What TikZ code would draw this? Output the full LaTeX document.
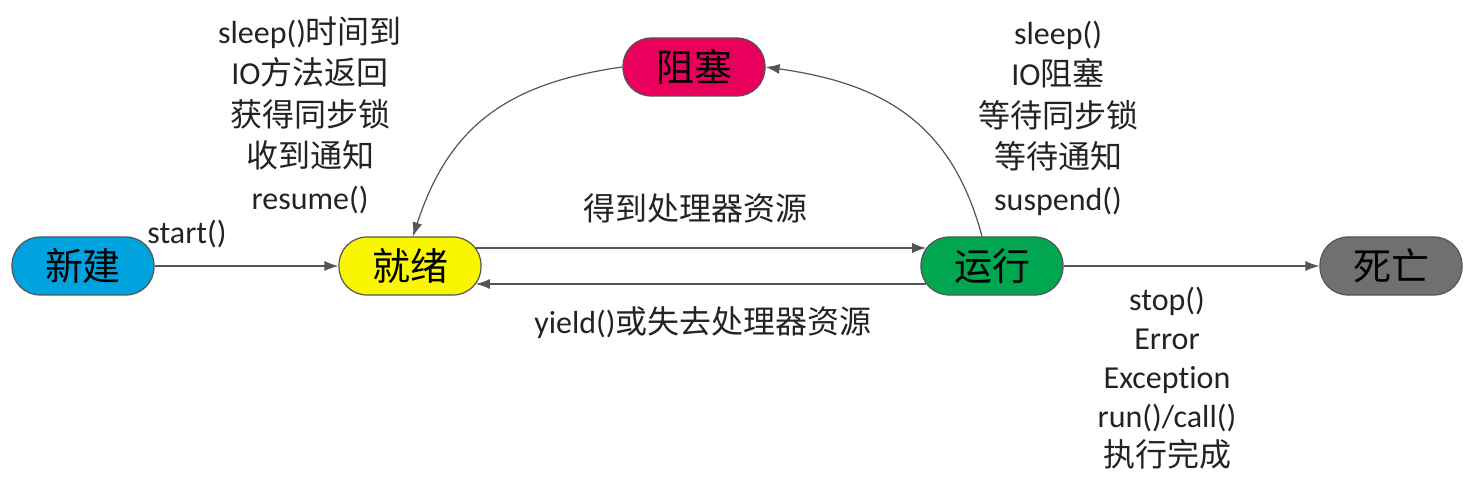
\documentclass[tikz,border=0pt]{standalone}
\usepackage{fontspec}
\setmainfont{Carlito}[Ligatures=NoCommon]
\newfontfamily\cjk{Noto Sans CJK SC}
\usepackage{tikz}
\usetikzlibrary{arrows.meta,calc}
\newcommand{\zh}[1]{{\cjk #1}}
\definecolor{newblue}{RGB}{0,162,222}
\definecolor{readyyellow}{RGB}{250,246,0}
\definecolor{rungreen}{RGB}{0,166,80}
\definecolor{deadgray}{RGB}{112,112,112}
\definecolor{blockred}{RGB}{232,0,92}
\definecolor{linegray}{RGB}{85,85,85}
\definecolor{textgray}{RGB}{35,35,35}

\begin{document}
\begin{tikzpicture}[x=0.5pt,y=0.5pt,
state/.style={draw=linegray,line width=0.6pt,rounded corners=14pt,
  minimum width=71pt,minimum height=29pt,inner sep=0pt,
  font=\cjk\fontsize{19}{19}\selectfont},
lbl/.style={align=center,text=textgray,inner sep=0pt,
  font=\fontsize{16}{20.75}\selectfont},
arr/.style={draw=linegray,line width=0.6pt,-{Latex[length=7pt,width=5pt]}}]
\useasboundingbox (0,0) rectangle (1478,488);

\node[state,fill=newblue] (new) at (83,222) {新建};
\node[state,fill=readyyellow] (ready) at (410,222) {就绪};
\node[state,fill=rungreen] (run) at (992,222) {运行};
\node[state,fill=deadgray] (dead) at (1391,222) {死亡};
\node[state,fill=blockred] (block) at (694,421) {阻塞};

\draw[arr] (new) -- (ready);
\draw[arr] ([shift={(-2.9pt,9pt)}]ready.east) -- ([shift={(2.9pt,9pt)}]run.west);
\draw[arr] ([shift={(2.9pt,-9pt)}]run.west) -- ([shift={(-2.9pt,-9pt)}]ready.east);
\draw[arr] (run) -- (dead);
\draw[arr] ([xshift=-5pt]run.north) to[out=105,in=-8,looseness=1.1] (block.east);
\draw[arr] (block.west) to[out=188,in=72,looseness=1.1] ([xshift=1.5pt]ready.north);

\node[lbl] (startlbl) at (187,254) {start()};
\node[lbl] (wakelbl) at (310,373) {sleep()\zh{时间到}\\IO\zh{方法返回}\\\zh{获得同步锁}\\\zh{收到通知}\\resume()};
\node[lbl] (waitlbl) at (1058,370) {sleep()\\IO\zh{阻塞}\\\zh{等待同步锁}\\\zh{等待通知}\\suspend()};
\node[lbl] (getlbl) at (695,280) {\zh{得到处理器资源}};
\node[lbl] (yieldlbl) at (703,165) {yield()\zh{或失去处理器资源}};
\node[lbl,font=\fontsize{16}{19.5}\selectfont] (endlbl) at (1167,110) {stop()\\Error\\Exception\\run()/call()\\\zh{执行完成}};
\end{tikzpicture}
\end{document}
